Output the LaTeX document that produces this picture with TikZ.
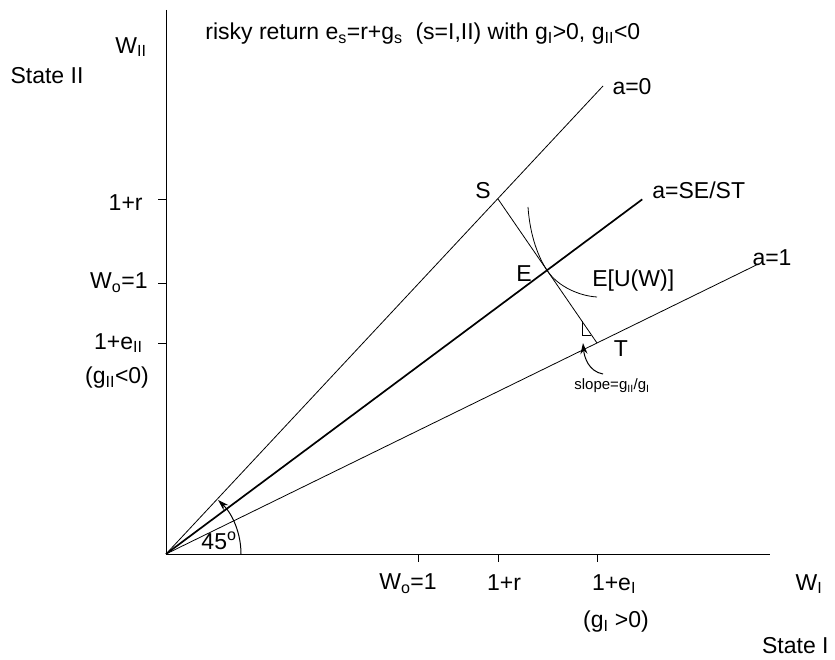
\documentclass[tikz,border=0pt]{standalone}
\usepackage{fontspec}
\setmainfont{Liberation Sans}
\usetikzlibrary{arrows.meta,calc}
\begin{document}
\begin{tikzpicture}[x=1pt,y=-1pt,line width=0.8pt,
  lbl/.style={inner sep=0pt,font=\fontsize{23}{27}\selectfont},
  smalllbl/.style={inner sep=0pt,font=\fontsize{15}{17}\selectfont},
  thinline/.style={line width=0.8pt},
  boldline/.style={line width=1.7pt},
  tickmark/.style={line width=0.8pt},
  pointer/.style={line width=1pt,-{Stealth[length=11pt,width=7pt]}}]
\useasboundingbox (0,0) rectangle (835,660);
% axes
\coordinate (O) at (166,554);
\coordinate (Ytop) at (166,10);
\coordinate (Xend) at (770,554);
\draw[thinline] (Ytop) -- (O) -- (Xend);
% y ticks
\coordinate (y1) at (166,199);
\coordinate (y2) at (166,283);
\coordinate (y3) at (166,343);
\foreach \c in {y1,y2,y3} \draw[tickmark] (\c) -- ++(-8,0);
% x ticks
\coordinate (x1) at (418,554);
\coordinate (x2) at (498,554);
\coordinate (x3) at (597,554);
\foreach \c in {x1,x2,x3} \draw[tickmark] (\c) -- ++(0,8);
% points
\coordinate (S) at (498,199);
\coordinate (T) at (597,343);
\coordinate (E) at ($(S)!0.495!(T)$);
\coordinate (A0) at (603,86);
\coordinate (A1) at ($(O)!1.375!(T)$);
\coordinate (ASE) at ($(O)!1.25!(E)$);
% rays
\draw[thinline] (O) -- (A0);
\draw[thinline] (O) -- (A1);
\draw[boldline] (O) -- (ASE);
% budget line
\draw[thinline] (S) -- (T);
% slope triangle
\coordinate (r1) at ($(S)!0.848!(T)$);
\coordinate (r2) at ($(S)!0.944!(T)$);
\draw[line width=0.6pt] (r1) -- (r1 |- r2) -- (r2);
% indifference curve
\coordinate (U1) at (528,207);
\coordinate (U2) at (597,297);
\draw[thinline] (U1) .. controls (530,236) and (538.5,257.6) .. (E)
  .. controls (558,287) and (580,296) .. (U2);
% pointer arrow
\coordinate (P1) at (603,374);
\coordinate (P2) at (583,343);
\draw[pointer] (P1) to[out=170,in=-85] (P2);
% 45 arc
\draw[pointer] ($(O)+(75,0)$) arc[start angle=0,end angle=-46,radius=75];
% labels
\node[lbl] (t45) at (219,541) {45\textsuperscript{o}};
\node[lbl,anchor=west] (title) at (205,34) {risky return e\textsubscript{s}=r+g\textsubscript{s}\ \ (s=I,II) with g\textsubscript{I}>0, g\textsubscript{II}<0};
\node[lbl] (WII) at (131,47) {W\textsubscript{II}};
\node[lbl] (St2) at (47,76) {State II};
\node[lbl,anchor=east] (l1r) at (143,203) {1+r};
\node[lbl,anchor=east] (lW) at (148,283) {W\textsubscript{o}=1};
\node[lbl,anchor=east] (leII) at (143,343) {1+e\textsubscript{II}};
\node[lbl] (gII) at (117,378) {(g\textsubscript{II}<0)};
\node[lbl] (bW) at (408,584) {W\textsubscript{o}=1};
\node[lbl] (b1r) at (504,583) {1+r};
\node[lbl] (beI) at (614,584) {1+e\textsubscript{I}};
\node[lbl] (gI) at (616,622) {(g\textsubscript{I} >0)};
\node[lbl] (WI) at (809,584) {W\textsubscript{I}};
\node[lbl,anchor=east] (St1) at (829,646) {State I};
\node[lbl] (la0) at (632,87) {a=0};
\node[lbl,anchor=west] (lase) at (652,190) {a=SE/ST};
\node[lbl] (la1) at (772,258) {a=1};
\node[lbl] (lS) at (483,191) {S};
\node[lbl] (lE) at (524,274) {E};
\node[lbl] (lT) at (621,349) {T};
\node[lbl,anchor=west] (lU) at (592,281) {E[U(W)]};
\node[smalllbl] (lslope) at (612,386) {slope=g\textsubscript{II}/g\textsubscript{I}};
\end{tikzpicture}
\end{document}
